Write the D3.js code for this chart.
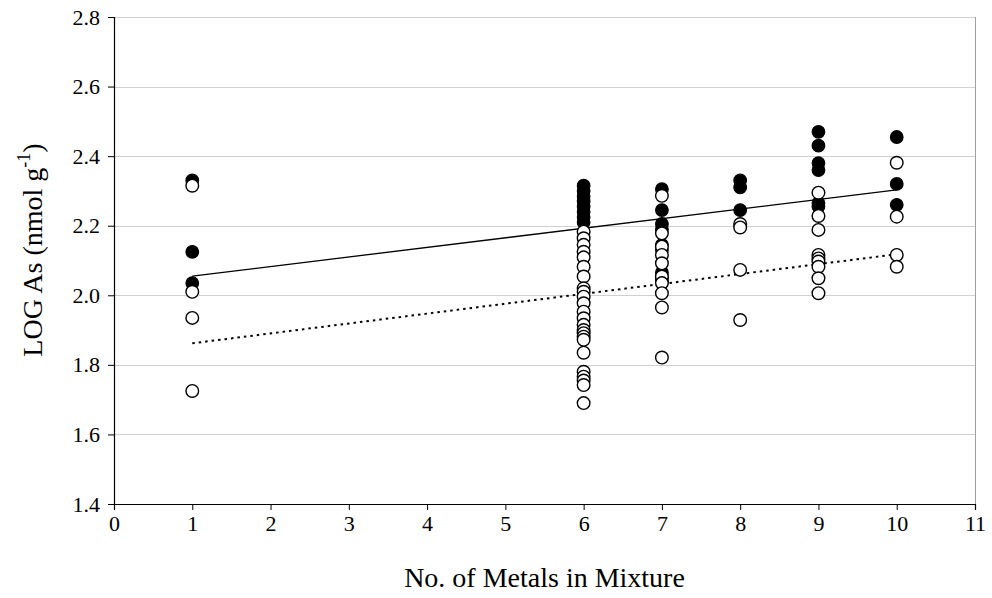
<!DOCTYPE html>
<html>
<head>
<meta charset="utf-8">
<script src="https://cdn.jsdelivr.net/npm/d3@7"></script>
<style>
  html, body { margin: 0; padding: 0; background: #fff; }
  svg { display: block; }
</style>
</head>
<body>
<svg id="chart" width="992" height="598"></svg>
<script>
// ---- Data ----
const metalCounts = [1, 6, 7, 8, 9, 10];

// filled circles, one array per metal count
const filledValues = [
  [2.33, 2.125, 2.035],
  [2.315, 2.30, 2.285, 2.27, 2.255, 2.24, 2.225, 2.21],
  [2.305, 2.245, 2.205, 2.19, 2.145, 2.13, 2.065, 2.05, 2.04],
  [2.33, 2.31, 2.245],
  [2.47, 2.43, 2.38, 2.36, 2.265, 2.255],
  [2.455, 2.32, 2.26]
];

// open circles, one array per metal count
const openValues = [
  [2.315, 2.01, 1.935, 1.725],
  [2.183, 2.164, 2.145, 2.125, 2.109, 2.082, 2.054, 2.02, 2.01, 1.996, 1.977, 1.953,
   1.934, 1.915, 1.90, 1.891, 1.881, 1.872, 1.835, 1.78, 1.766, 1.755, 1.742, 1.69],
  [2.286, 2.178, 2.14, 2.116, 2.092, 2.054, 2.035, 2.006, 1.965, 1.821],
  [2.205, 2.195, 2.073, 1.929],
  [2.295, 2.228, 2.188, 2.116, 2.106, 2.097, 2.082, 2.049, 2.006],
  [2.381, 2.226, 2.116, 2.082]
];

// linear trend lines (x from 1 to 10)
const trendX = [1, 10];
const filledTrend = [2.055, 2.303];
const openTrend = [1.862, 2.118];

const xTicks = [0, 1, 2, 3, 4, 5, 6, 7, 8, 9, 10, 11];
const yTicks = [1.4, 1.6, 1.8, 2.0, 2.2, 2.4, 2.6, 2.8];

// ---- Layout ----
const FONT = "Liberation Serif, Times New Roman, serif";
const svg = d3.select("#chart");
const plotL = 114, plotR = 975, plotT = 17, plotB = 504;

const x = d3.scaleLinear().domain([0, 11]).range([plotL, plotR]);
const y = d3.scaleLinear().domain([1.4, 2.8]).range([plotB, plotT]);

// gridlines
svg.append("g").selectAll("line").data(yTicks.filter(d => d > 1.4)).join("line")
  .attr("x1", plotL).attr("x2", plotR)
  .attr("y1", d => Math.round(y(d)) + 0.5).attr("y2", d => Math.round(y(d)) + 0.5)
  .attr("stroke", "#d0d0d0").attr("stroke-width", 1);

// right border
svg.append("line").attr("x1", plotR + 0.5).attr("x2", plotR + 0.5)
  .attr("y1", plotT).attr("y2", plotB).attr("stroke", "#a0a0a0").attr("stroke-width", 1);

// axes
const yAxis = d3.axisLeft(y).tickValues(yTicks).tickFormat(d3.format(".1f")).tickSize(6).tickPadding(8);
const gy = svg.append("g").attr("transform", `translate(${plotL},0)`).call(yAxis);
const xAxis = d3.axisBottom(x).tickValues(xTicks).tickFormat(d3.format("d")).tickSize(6).tickPadding(5);
const gx = svg.append("g").attr("transform", `translate(0,${plotB})`).call(xAxis);
for (const g of [gx, gy]) {
  g.attr("font-family", FONT).attr("font-size", 22);
  g.select(".domain").attr("stroke", "#000").attr("stroke-width", 1.2);
  g.selectAll(".tick line").attr("stroke", "#000");
  g.selectAll(".tick text").attr("font-family", FONT).attr("font-size", 22).attr("fill", "#000");
}

// trend lines
const lineGen = d3.line().x(d => x(d[0])).y(d => y(d[1]));
svg.append("path").datum(trendX.map((v, i) => [v, filledTrend[i]]))
  .attr("d", lineGen).attr("fill", "none").attr("stroke", "#000").attr("stroke-width", 1.3);
svg.append("path").datum(trendX.map((v, i) => [v, openTrend[i]]))
  .attr("d", lineGen).attr("fill", "none").attr("stroke", "#000").attr("stroke-width", 2)
  .attr("stroke-dasharray", "2.5,4");

// points
const filledPts = metalCounts.flatMap((m, i) => filledValues[i].map(v => [m, v]));
const openPts = metalCounts.flatMap((m, i) => openValues[i].map(v => [m, v]));

svg.append("g").selectAll("circle").data(filledPts).join("circle")
  .attr("cx", d => x(d[0])).attr("cy", d => y(d[1])).attr("r", 6.3)
  .attr("fill", "#000").attr("stroke", "#000").attr("stroke-width", 1.2);
svg.append("g").selectAll("circle").data(openPts).join("circle")
  .attr("cx", d => x(d[0])).attr("cy", d => y(d[1])).attr("r", 6.3)
  .attr("fill", "#fff").attr("stroke", "#000").attr("stroke-width", 1.4);

// axis titles
svg.append("text").attr("x", (plotL + plotR) / 2).attr("y", 587)
  .attr("text-anchor", "middle").attr("font-family", FONT).attr("font-size", 28)
  .text("No. of Metals in Mixture");

const yt = svg.append("text").attr("transform", "translate(42,250) rotate(-90)")
  .attr("text-anchor", "middle").attr("font-family", FONT).attr("font-size", 28);
yt.append("tspan").text("LOG As (nmol g");
yt.append("tspan").attr("dy", -12).attr("font-size", 18).text("-1");
yt.append("tspan").attr("dy", 12).text(")");
</script>
</body>
</html>
